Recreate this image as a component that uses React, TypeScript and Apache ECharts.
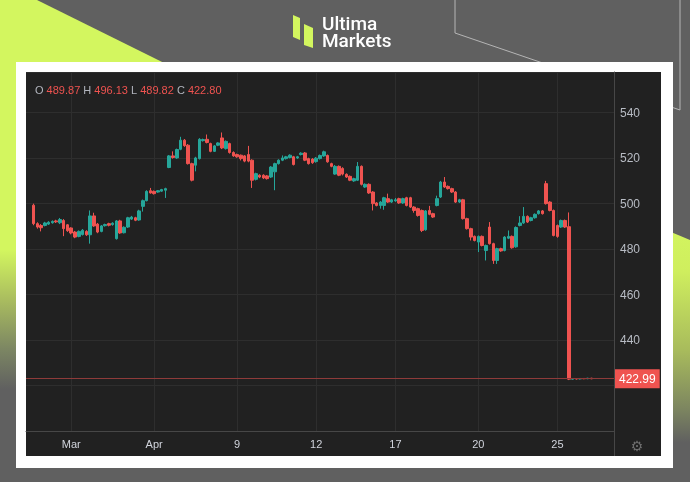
import React, { useEffect, useRef } from 'react';
import * as echarts from 'echarts';

// ---- data ----
const candles: number[][] = [
  // [open, close, low, high]
  [499.3, 491.2, 490.5, 500.0], [491.2, 489.7, 489.0, 491.8], [490.4, 489.4, 487.8, 491.0], [490.4, 491.5, 490.0, 492.0],
  [491.0, 491.8, 490.6, 492.3], [491.6, 492.2, 491.2, 492.6], [492.4, 492.0, 491.5, 492.9], [491.6, 493.0, 491.0, 493.7],
  [492.6, 489.0, 485.7, 493.2], [490.7, 488.1, 487.6, 491.0], [489.3, 487.1, 486.5, 489.6], [487.5, 485.3, 484.8, 488.0],
  [485.6, 487.8, 485.2, 488.2], [486.4, 488.3, 486.0, 488.8], [487.8, 486.3, 485.8, 488.3], [486.3, 494.6, 482.4, 497.0],
  [494.6, 490.2, 489.8, 496.0], [491.0, 487.5, 487.0, 491.5], [487.8, 490.2, 487.4, 490.6], [490.3, 490.8, 489.9, 491.2],
  [491.2, 490.5, 490.0, 491.6], [490.8, 491.4, 490.3, 491.8], [484.6, 492.4, 484.2, 492.8], [492.4, 487.1, 486.7, 492.9],
  [487.2, 489.6, 486.9, 490.0], [489.7, 493.8, 489.3, 494.2], [493.2, 494.1, 492.8, 494.6], [493.8, 492.7, 492.3, 494.2],
  [492.8, 496.8, 492.5, 497.3], [498.8, 501.3, 496.5, 501.8], [501.3, 505.4, 501.0, 505.9], [505.7, 504.7, 504.4, 506.9],
  [505.4, 504.4, 504.0, 505.8], [505.1, 505.7, 504.8, 506.0], [505.5, 506.2, 505.2, 506.5], [505.9, 506.6, 502.5, 507.0],
  [515.9, 521.0, 515.6, 521.4], [521.0, 520.3, 519.8, 523.0], [520.1, 523.8, 519.7, 524.2], [523.9, 527.9, 523.5, 529.4],
  [527.9, 525.5, 525.0, 528.4], [525.7, 517.6, 517.2, 526.2], [517.6, 510.3, 509.8, 518.0], [516.9, 520.1, 514.2, 520.6],
  [519.8, 528.3, 519.4, 528.8], [527.7, 528.2, 527.3, 528.6], [528.3, 526.9, 526.5, 530.4], [526.4, 523.0, 522.6, 526.8],
  [523.0, 525.4, 522.7, 525.8], [525.7, 526.7, 525.3, 527.0], [528.9, 524.5, 524.0, 531.3], [524.2, 527.4, 523.8, 527.8],
  [526.4, 522.5, 522.0, 526.8], [522.5, 521.0, 520.6, 523.0], [521.6, 520.6, 520.2, 522.0], [521.3, 519.8, 519.0, 521.6],
  [521.0, 518.7, 518.2, 521.4], [521.6, 518.7, 518.2, 525.4], [519.1, 510.3, 506.9, 519.5], [510.7, 513.2, 510.2, 513.6],
  [512.5, 511.7, 511.2, 512.9], [512.5, 511.3, 510.8, 512.9], [512.2, 511.0, 510.6, 512.6], [511.7, 516.1, 511.3, 516.5],
  [514.0, 517.6, 505.9, 518.0], [517.6, 519.1, 517.2, 519.5], [519.1, 520.1, 518.7, 521.2], [519.8, 520.6, 519.4, 521.0],
  [520.3, 521.3, 519.9, 521.7], [520.6, 517.2, 516.8, 521.0], [520.1, 520.6, 519.7, 521.0], [521.6, 522.2, 521.2, 522.6],
  [522.3, 519.1, 518.7, 522.7], [519.8, 517.6, 517.2, 520.2], [519.6, 518.0, 517.5, 520.0], [518.5, 520.0, 518.0, 520.5],
  [519.8, 521.2, 519.4, 521.6], [521.0, 522.8, 520.6, 523.3], [521.2, 518.4, 518.0, 521.6], [517.6, 516.4, 516.0, 518.0],
  [513.0, 516.4, 512.7, 517.0], [516.4, 512.5, 512.1, 516.8], [515.5, 513.0, 512.4, 516.0], [512.9, 511.7, 511.3, 513.3],
  [512.0, 510.3, 509.9, 512.4], [510.0, 511.0, 509.6, 511.4], [510.3, 516.4, 510.0, 518.3], [516.4, 508.5, 508.0, 516.8],
  [507.3, 508.5, 506.9, 508.9], [508.5, 504.7, 504.3, 508.9], [505.1, 500.0, 497.0, 505.5], [500.3, 499.2, 498.8, 500.7],
  [499.2, 500.7, 497.8, 501.1], [499.2, 502.6, 497.3, 503.0], [502.2, 500.7, 500.3, 504.4], [500.7, 501.7, 500.3, 502.1],
  [501.2, 501.7, 500.8, 502.5], [502.2, 500.3, 499.9, 502.6], [500.3, 502.2, 499.9, 502.6], [502.6, 499.2, 498.8, 503.0],
  [502.6, 498.5, 498.1, 503.0], [498.5, 497.0, 496.0, 498.9], [497.8, 494.8, 494.3, 498.2], [497.0, 488.2, 487.5, 497.4],
  [488.5, 496.8, 488.1, 497.2], [497.0, 495.3, 494.9, 499.0], [495.6, 494.1, 493.7, 496.0], [499.2, 502.2, 498.8, 503.5],
  [502.9, 509.5, 502.5, 510.0], [509.5, 507.3, 506.9, 511.7], [507.6, 506.6, 506.2, 508.0], [506.6, 505.1, 504.7, 507.0],
  [505.1, 500.7, 500.3, 505.5], [500.7, 501.7, 500.3, 502.1], [501.7, 493.4, 493.0, 502.1], [493.4, 489.0, 488.6, 493.8],
  [489.0, 485.3, 483.8, 489.4], [485.6, 483.8, 483.4, 486.0], [483.1, 485.6, 478.7, 486.0], [485.6, 481.6, 481.2, 486.0],
  [479.4, 481.6, 475.0, 482.0], [489.7, 482.4, 482.0, 491.9], [482.4, 475.0, 473.5, 482.8], [475.0, 480.2, 473.5, 480.6],
  [480.2, 479.2, 478.8, 480.6], [479.4, 485.3, 479.0, 485.7], [484.8, 485.6, 484.4, 488.2], [485.6, 480.6, 480.2, 486.0],
  [481.0, 489.5, 480.6, 490.0], [490.4, 491.5, 490.0, 494.5], [491.5, 494.4, 491.1, 498.5], [494.4, 491.9, 491.5, 494.8],
  [492.6, 493.8, 492.2, 494.2], [493.8, 495.3, 493.4, 495.7], [495.6, 496.8, 495.2, 497.2], [496.8, 495.6, 495.2, 497.2],
  [508.8, 500.0, 499.6, 510.0], [500.7, 497.0, 496.6, 501.1], [497.0, 486.0, 485.6, 497.4], [490.4, 485.6, 485.0, 490.8],
  [489.7, 492.6, 489.3, 493.0], [492.6, 489.7, 489.3, 493.0], [489.87, 422.8, 422.4, 496.13],
  [422.8, 423.0, 422.6, 423.2], [423.0, 422.9, 422.7, 423.2], [422.9, 423.1, 422.7, 423.3], [423.1, 423.0, 422.8, 423.3],
  [423.0, 423.2, 422.8, 423.4], [423.2, 422.99, 422.8, 423.4],
];

const LEAD = 2;
const TRAIL = 6;
const tickLabels = ['Mar', 'Apr', '9', '12', '17', '20', '25'];
const tickIndex = [12, 34, 56, 77, 98, 120, 141];
const lastPrice = 422.99;
const hiddenPriceTick = 420; // covered by the last-price box in the reference
const legendKeys = ['O', 'H', 'L', 'C'];
const legendVals = ['489.87', '496.13', '489.82', '422.80'];
const brandLines = ['Ultima', 'Markets'];
const yMin = 400;
const yMax = 557.9;
const yStep = 20;

const LIME = '#d3f65f';
const GRAY = '#606060';

export default function App() {
  const ref = useRef<HTMLDivElement>(null);
  useEffect(() => {
    if (!ref.current) return;
    const chart = echarts.init(ref.current, undefined, { renderer: 'svg' });
    const N = LEAD + candles.length + TRAIL;
    const categories = Array.from({ length: N }, (_, i) => String(i));
    const labelMap: Record<number, string> = {};
    tickIndex.forEach((k, j) => (labelMap[k] = tickLabels[j]));
    const tickSet = new Set(tickIndex);
    const data = candles.map((c, i) => [i + LEAD, c[0], c[1], c[2], c[3]]);
    const legendText = legendKeys.map((k, i) => `{k|${k}} {v|${legendVals[i]}}`).join(' ');

    const grad = (stops: [number, string][]) =>
      new echarts.graphic.LinearGradient(0, 0, 0, 1, stops.map(([offset, color]) => ({ offset, color })));

    const option: any = {
      animation: false,
      textStyle: { fontFamily: 'Liberation Sans, Arial, sans-serif' },
      graphic: {
        elements: [
          { type: 'rect', z: -100, shape: { x: 0, y: 0, width: 690, height: 482 }, style: { fill: GRAY } },
          { type: 'polygon', z: -99, shape: { points: [[0, 0], [37, 0], [400, 180], [0, 180]] }, style: { fill: LIME } },
          {
            type: 'rect', z: -99, shape: { x: 0, y: 150, width: 30, height: 332 },
            style: { fill: grad([[0, LIME], [0.3, LIME], [0.45, '#aabd5f'], [0.6, '#7c8663'], [0.72, GRAY], [1, GRAY]]) },
          },
          {
            type: 'polygon', z: -99, shape: { points: [[640, 219], [690, 240], [690, 482], [640, 482]] },
            style: { fill: grad([[0, LIME], [0.2, '#cfee5e'], [0.5, '#a8bb5c'], [0.72, '#7d8660'], [0.85, GRAY], [1, GRAY]]) },
          },
          {
            type: 'polyline', z: -98, shape: { points: [[455, 0], [455, 33], [680, 110], [680, 0]] },
            style: { stroke: '#b5b5b5', lineWidth: 1, fill: 'none' },
          },
          { type: 'rect', z: -97, shape: { x: 16, y: 62, width: 657, height: 406 }, style: { fill: '#ffffff' } },
          { type: 'rect', z: -96, shape: { x: 26, y: 72, width: 635, height: 384 }, style: { fill: '#212121' } },
          { type: 'polygon', z: -95, shape: { points: [[293, 15], [300, 18], [300, 40], [293, 37]] }, style: { fill: LIME } },
          { type: 'polygon', z: -95, shape: { points: [[304, 24], [313, 28], [313, 48], [304, 45]] }, style: { fill: LIME } },
          {
            type: 'text', z: -95, x: 322, y: 15,
            style: {
              text: brandLines.join('\n'), fill: '#ffffff',
              fontSize: 19, fontWeight: 500, fontFamily: 'Roboto, sans-serif',
              lineHeight: 17, textVerticalAlign: 'top', verticalAlign: 'top',
            },
          },
          {
            type: 'text', z: 50, x: 35, y: 90,
            style: {
              text: legendText, textVerticalAlign: 'middle',
              font: '11px Liberation Sans, Arial, sans-serif',
              rich: {
                k: { fill: '#b2b5be', fontSize: 11, fontFamily: 'Liberation Sans, Arial, sans-serif' },
                v: { fill: '#ef5350', fontSize: 11, fontFamily: 'Liberation Sans, Arial, sans-serif' },
              },
            },
          },
          { type: 'line', z: 50, shape: { x1: 614.5, y1: 431, x2: 614.5, y2: 456 }, style: { stroke: '#474747', lineWidth: 1 } },
          {
            type: 'text', z: 50, x: 637, y: 446,
            style: { text: '⚙', fill: '#6e6e6e', font: '14px DejaVu Sans', textAlign: 'center', textVerticalAlign: 'middle' },
          },
        ],
      },
      grid: { left: 26, right: 76, top: 72, bottom: 51 },
      xAxis: {
        type: 'category',
        data: categories,
        boundaryGap: false,
        axisLine: { show: true, lineStyle: { color: '#474747' } },
        axisTick: { show: false },
        axisLabel: {
          interval: (i: number) => tickSet.has(i),
          formatter: (v: string) => labelMap[Number(v)] ?? '',
          color: '#d1d4dc',
          fontSize: 11,
          margin: 7,
        },
        splitLine: { show: true, interval: (i: number) => tickSet.has(i), lineStyle: { color: '#2e2e2e', width: 1 } },
      },
      yAxis: {
        type: 'value',
        position: 'right',
        min: yMin,
        max: yMax,
        interval: yStep,
        axisLine: { show: true, lineStyle: { color: '#474747' } },
        axisTick: { show: false },
        axisLabel: {
          color: '#b8bcc4', fontSize: 12, margin: 6, showMaxLabel: false, showMinLabel: false,
          formatter: (v: number) => (v === hiddenPriceTick ? '' : String(v)),
        },
        splitLine: { show: true, lineStyle: { color: '#2e2e2e', width: 1 } },
      },
      series: [
        {
          type: 'candlestick',
          data,
          encode: { x: 0, y: [1, 2, 3, 4] },
          barWidth: 3,
          itemStyle: {
            color: '#26a69a',
            color0: '#ef5350',
            borderColor: '#26a69a',
            borderColor0: '#ef5350',
            borderWidth: 1,
          },
          markLine: {
            symbol: 'none',
            silent: true,
            data: [{ yAxis: lastPrice }],
            lineStyle: { color: '#8e3b3a', type: 'solid', width: 1, opacity: 1 },
            label: {
              position: 'end',
              formatter: lastPrice.toFixed(2),
              color: '#ffffff',
              backgroundColor: '#ef5350',
              opacity: 1,
              padding: [4, 4, 3, 4],
              fontSize: 12,
              distance: 1,
            },
          },
        },
      ],
    };
    chart.setOption(option);
    return () => chart.dispose();
  }, []);
  return <div ref={ref} style={{ position: 'fixed', left: 0, top: 0, width: 690, height: 482 }} />;
}
